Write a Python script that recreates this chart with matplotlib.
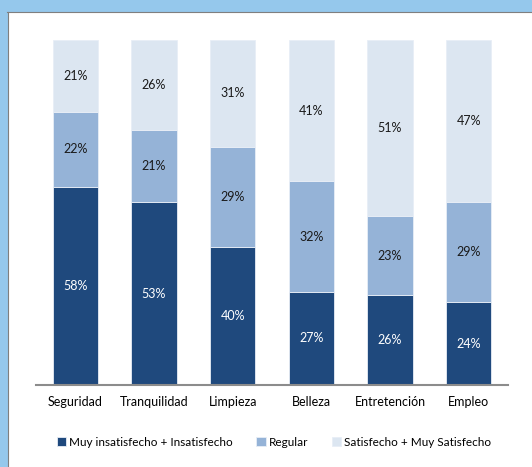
import matplotlib.pyplot as plt
from matplotlib.patches import Rectangle
from matplotlib.lines import Line2D
import numpy as np

categories = ['Seguridad', 'Tranquilidad', 'Limpieza', 'Belleza', 'Entretención', 'Empleo']
insatisfecho = [58, 53, 40, 27, 26, 24]
regular = [22, 21, 29, 32, 23, 29]
satisfecho = [21, 26, 31, 41, 51, 47]
series_names = ['Muy insatisfecho + Insatisfecho', 'Regular', 'Satisfecho + Muy Satisfecho']

colors = ['#1F497D', '#95B3D7', '#DCE6F1']
text_colors = ['white', '#1a1a1a', '#1a1a1a']

plt.rcParams['font.family'] = ['Lato', 'DejaVu Sans']

fig = plt.figure(figsize=(5.32, 4.67), dpi=100)

# blue frame strip top and left
fig.patches.append(Rectangle((0, 1 - 11 / 467), 1, 11 / 467, transform=fig.transFigure,
                             color='#95C8EC', zorder=0))
fig.patches.append(Rectangle((0, 0), 7 / 532, 1, transform=fig.transFigure,
                             color='#95C8EC', zorder=0))
fig.lines.append(Line2D([7 / 532, 1], [1 - 11.5 / 467, 1 - 11.5 / 467], transform=fig.transFigure,
                        color='#7F7F7F', lw=0.8))
fig.lines.append(Line2D([7.5 / 532, 7.5 / 532], [0, 1 - 11.5 / 467], transform=fig.transFigure,
                        color='#7F7F7F', lw=0.8))

ax = fig.add_axes([36 / 532, 82 / 467, 472 / 532, 345 / 467])

x = np.arange(len(categories))
data = np.array([insatisfecho, regular, satisfecho], dtype=float)
totals = data.sum(axis=0)
norm = data / totals * 100

bottom = np.zeros(len(categories))
for i in range(3):
    ax.bar(x, norm[i], bottom=bottom, width=0.58, color=colors[i],
           edgecolor='#E8EEF6', linewidth=0.6, label=series_names[i])
    for j in range(len(categories)):
        ax.text(x[j], bottom[j] + norm[i][j] / 2, f'{int(data[i][j])}%',
                ha='center', va='center', fontsize=9, color=text_colors[i])
    bottom += norm[i]

ax.set_xlim(-0.5, 5.5)
ax.set_ylim(0, 100)
ax.set_yticks([])
ax.set_xticks(x)
ax.set_xticklabels(categories, fontsize=9)
ax.tick_params(axis='x', length=0, pad=8)
for s in ['top', 'right', 'left']:
    ax.spines[s].set_visible(False)
ax.spines['bottom'].set_color('#8C8C8C')
ax.spines['bottom'].set_linewidth(1.5)

fig.legend(loc='center', bbox_to_anchor=(0.515, 1 - 442 / 467), ncol=3, frameon=False,
           fontsize=8.5, handlelength=0.8, handleheight=0.8, handletextpad=0.25,
           columnspacing=2.0)

fig.savefig('out.png', dpi=100)
